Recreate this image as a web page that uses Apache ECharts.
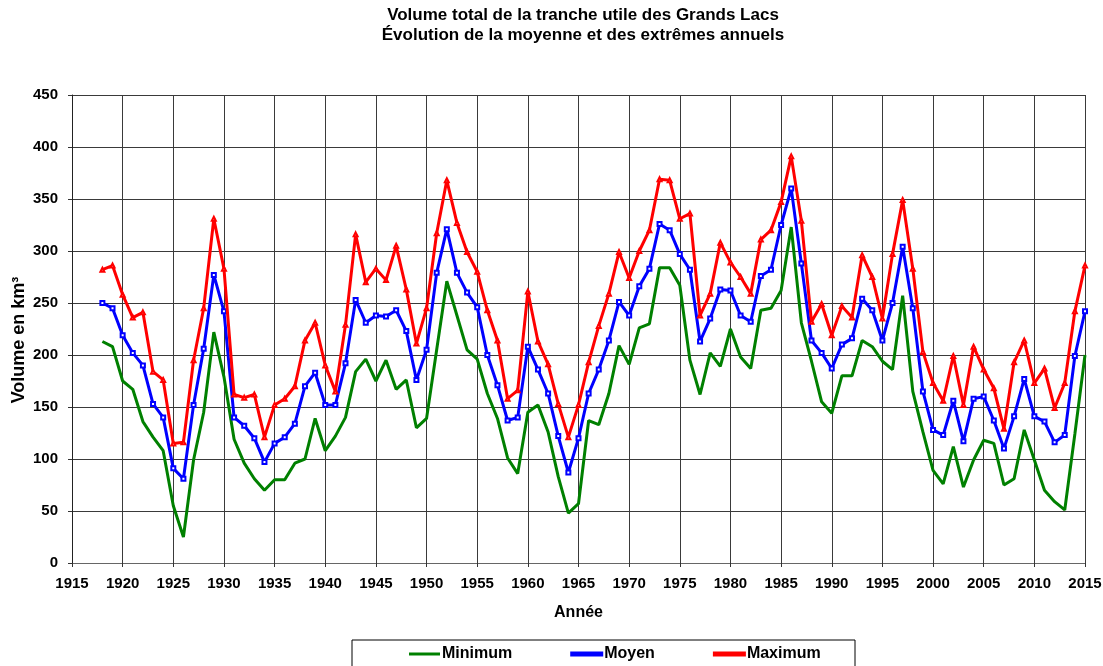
<!DOCTYPE html>
<html><head><meta charset="utf-8">
<script src="https://cdn.jsdelivr.net/npm/echarts@6/dist/echarts.min.js"></script>
<style>html,body{margin:0;padding:0;background:#fff}#c{width:1103px;height:666px}</style>
</head><body><div id="c"></div>
<script>
const years = [];
for (let y = 1918; y <= 2015; y++) years.push(y);

const minimum = [213,208,175,167,136,121,108,55,25,99,145,222,179,119,96,81,70,80,80,96,100,139,108,122,140,184,196,175,195,167,176,130,139,205,271,238,205,196,163,139,101,86,145,152,126,83,48,57,137,133,163,209,191,226,230,284,284,267,195,162,202,189,225,198,187,243,245,262,323,231,194,155,144,180,180,214,208,194,186,257,165,126,89,76,112,73,99,118,115,75,81,128,99,70,59,51,124,200];
const moyen = [250,245,219,202,190,153,140,91,81,152,206,277,242,140,132,120,97,115,121,134,170,183,152,152,192,253,231,238,237,243,223,176,205,279,321,279,260,246,200,171,137,140,208,186,163,122,87,120,163,186,214,251,238,266,283,326,320,297,282,213,235,263,262,238,232,276,282,325,360,288,214,202,187,210,216,254,243,214,250,304,245,165,128,123,156,117,158,160,137,110,141,177,141,136,116,123,199,242];
const maximum = [282,286,258,236,241,184,176,115,116,195,245,331,283,162,159,162,121,152,158,170,214,231,190,165,229,316,270,283,272,305,263,211,245,317,368,327,299,280,243,214,158,166,261,213,191,153,121,152,193,228,259,299,274,300,320,369,368,331,336,238,259,308,289,275,259,311,320,347,391,329,232,249,219,247,236,296,275,235,297,349,283,203,173,156,199,152,208,186,168,129,193,214,173,187,149,173,242,286];

const seriesNames = ['Minimum', 'Moyen', 'Maximum'];
const titleText = 'Volume total de la tranche utile des Grands Lacs\nÉvolution de la moyenne et des extrêmes annuels';

const pair = arr => years.map((y, i) => [y, arr[i]]);
const FONT = '"Liberation Sans", Arial, sans-serif';

const chart = echarts.init(document.getElementById('c'), null, {renderer: 'canvas'});
chart.setOption({
  animation: false,
  backgroundColor: '#fff',
  title: {
    text: titleText,
    left: 583, top: 5, textAlign: 'center', padding: 0,
    textStyle: {fontFamily: FONT, fontSize: 17, fontWeight: 'bold', color: '#000', lineHeight: 20}
  },
  graphic: [{
    type: 'rect', z: 0,
    shape: {x: 352, y: 640, width: 503, height: 40},
    style: {fill: '#fff', stroke: '#000', lineWidth: 1}
  }],
  legend: {
    data: seriesNames,
    left: 404, top: 641,
    icon: 'rect',
    itemWidth: 31, itemHeight: 3, itemGap: 58,
    textStyle: {fontFamily: FONT, fontSize: 16, fontWeight: 'bold', color: '#000', padding: [0,0,0,-3]},
    z: 5
  },
  grid: {left: 72, right: 18, top: 95, bottom: 103, containLabel: false, outerBoundsMode: 'none'},
  xAxis: {
    type: 'value', min: 1915, max: 2015, interval: 5,
    name: 'Année', nameLocation: 'middle', nameGap: 42, nameMoveOverlap: false,
    nameTextStyle: {fontFamily: FONT, fontSize: 16, fontWeight: 'bold', color: '#000'},
    axisLine: {lineStyle: {color: '#666', width: 1}},
    axisTick: {show: true, inside: false, length: 4, lineStyle: {color: '#333'}},
    axisLabel: {fontFamily: FONT, fontSize: 15, fontWeight: 'bold', color: '#000', margin: 13, formatter: v => String(v)},
    splitLine: {show: true, lineStyle: {color: '#3a3a3a', width: 1}}
  },
  yAxis: {
    type: 'value', min: 0, max: 450, interval: 50,
    name: 'Volume en km³', nameLocation: 'middle', nameGap: 44, nameMoveOverlap: false,
    nameTextStyle: {fontFamily: FONT, fontSize: 18, fontWeight: 'bold', color: '#000', padding: [0, 22, 0, 0]},
    axisLine: {show: true, lineStyle: {color: '#222', width: 1}},
    axisTick: {show: true, inside: false, length: 4, lineStyle: {color: '#333'}},
    axisLabel: {fontFamily: FONT, fontSize: 15, fontWeight: 'bold', color: '#000', margin: 14},
    splitLine: {show: true, lineStyle: {color: '#3a3a3a', width: 1}}
  },
  series: [
    {name: seriesNames[0], type: 'line', data: pair(minimum), showSymbol: false, symbol: 'none',
     lineStyle: {color: '#008000', width: 3}, itemStyle: {color: '#008000'}, z: 2},
    {name: seriesNames[1], type: 'line', data: pair(moyen), symbol: 'emptyRect', symbolSize: 4,
     lineStyle: {color: '#0000ff', width: 3}, itemStyle: {color: '#0000ff', borderColor: '#0000ff', borderWidth: 1}, z: 3},
    {name: seriesNames[2], type: 'line', data: pair(maximum), symbol: 'emptyTriangle', symbolSize: 4,
     lineStyle: {color: '#ff0000', width: 3}, itemStyle: {color: '#ff0000', borderColor: '#ff0000', borderWidth: 1}, z: 4}
  ]
});
</script></body></html>
